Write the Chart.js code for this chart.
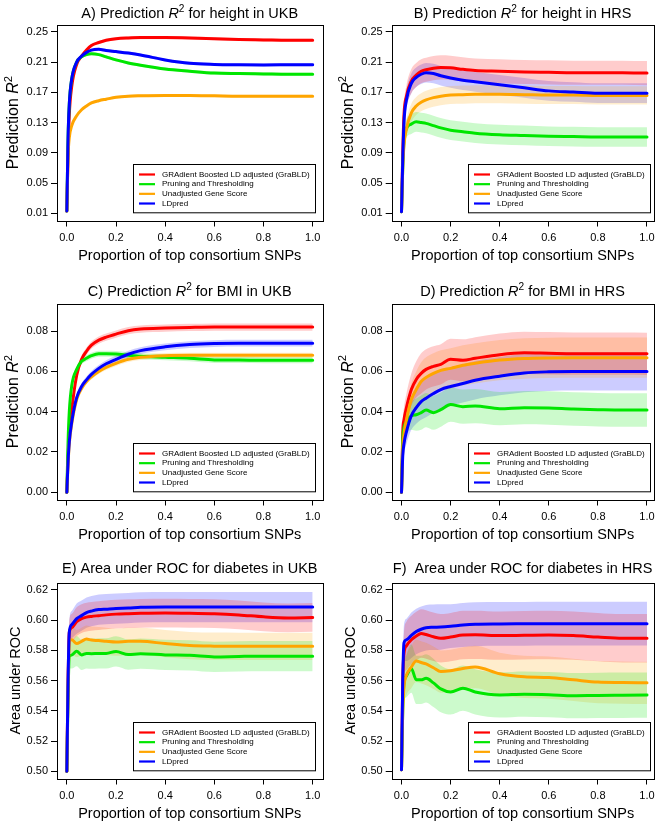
<!DOCTYPE html>
<html>
<head>
<meta charset="utf-8">
<script src="https://cdn.jsdelivr.net/npm/chart.js@4/dist/chart.umd.min.js"></script>
<style>
  body { margin: 0; background: #fff; width: 660px; height: 822px; overflow: hidden; position: relative; }
  canvas { position: absolute; }
</style>
</head>
<body>
<canvas id="pA" width="330" height="279" style="left:0;top:0"></canvas>
<canvas id="pB" width="330" height="279" style="left:330px;top:0"></canvas>
<canvas id="pC" width="330" height="279" style="left:0;top:279px"></canvas>
<canvas id="pD" width="330" height="279" style="left:330px;top:279px"></canvas>
<canvas id="pE" width="330" height="279" style="left:0;top:558px"></canvas>
<canvas id="pF" width="330" height="279" style="left:330px;top:558px"></canvas>
<script>
// proportion of top consortium SNPs (x grid shared by all curves)
const snpProp = [0, 0.005, 0.01, 0.02, 0.04, 0.06, 0.08, 0.1, 0.13, 0.16, 0.2, 0.25, 0.3, 0.4, 0.5, 0.6, 0.7, 0.8, 0.9, 1.0];
const xTicks = [0, 0.2, 0.4, 0.6, 0.8, 1.0];
const ticksHeight = [0.01, 0.05, 0.09, 0.13, 0.17, 0.21, 0.25];
const ticksBMI = [0, 0.02, 0.04, 0.06, 0.08];
const ticksAUC = [0.50, 0.52, 0.54, 0.56, 0.58, 0.60, 0.62];

const seriesNames = ["GRAdient Boosted LD adjusted (GraBLD)", "Pruning and Thresholding", "Unadjusted Gene Score", "LDpred"];
const lineColors = ["#ff0000", "#00e600", "#ffa500", "#0000ff"];
const bandColors = ["rgba(255,0,0,0.2)", "rgba(0,230,0,0.2)", "rgba(255,165,0,0.2)", "rgba(0,0,255,0.2)"];

// A) height, UKB
const hUKB_grabld = [0.013, 0.09, 0.14, 0.178, 0.207, 0.218, 0.226, 0.232, 0.236, 0.239, 0.241, 0.242, 0.2425, 0.2425, 0.242, 0.241, 0.240, 0.2395, 0.239, 0.239];
const hUKB_pt     = [0.013, 0.11, 0.155, 0.188, 0.210, 0.217, 0.220, 0.221, 0.220, 0.217, 0.213, 0.209, 0.206, 0.201, 0.198, 0.1955, 0.195, 0.1945, 0.194, 0.194];
const hUKB_ugs    = [0.013, 0.085, 0.11, 0.126, 0.139, 0.147, 0.152, 0.156, 0.159, 0.161, 0.1635, 0.165, 0.1655, 0.166, 0.166, 0.1655, 0.165, 0.165, 0.165, 0.165];
const hUKB_ldpred = [0.013, 0.11, 0.155, 0.188, 0.210, 0.218, 0.223, 0.226, 0.227, 0.2255, 0.224, 0.222, 0.2195, 0.213, 0.2085, 0.207, 0.2065, 0.2063, 0.2065, 0.2067];
const hUKB_grabld_ci = [0, 0.001, 0.0015, 0.002, 0.002, 0.002, 0.002, 0.002, 0.002, 0.002, 0.002, 0.002, 0.002, 0.002, 0.002, 0.002, 0.002, 0.002, 0.002, 0.002];
const hUKB_pt_ci     = [0, 0.001, 0.0015, 0.002, 0.002, 0.002, 0.002, 0.002, 0.002, 0.002, 0.002, 0.002, 0.002, 0.002, 0.002, 0.002, 0.002, 0.002, 0.002, 0.002];
const hUKB_ugs_ci    = [0, 0.001, 0.0015, 0.0018, 0.0018, 0.0018, 0.0018, 0.0018, 0.0018, 0.0018, 0.0018, 0.0018, 0.0018, 0.0018, 0.0018, 0.0018, 0.0018, 0.0018, 0.0018, 0.0018];
const hUKB_ldpred_ci = [0, 0.001, 0.0015, 0.002, 0.002, 0.002, 0.002, 0.002, 0.002, 0.002, 0.002, 0.002, 0.002, 0.002, 0.002, 0.002, 0.002, 0.002, 0.002, 0.002];

// B) height, HRS
const hHRS_grabld = [0.013, 0.09, 0.14, 0.165, 0.185, 0.193, 0.198, 0.2, 0.202, 0.203, 0.2025, 0.2005, 0.199, 0.198, 0.197, 0.1965, 0.196, 0.196, 0.196, 0.1955];
const hHRS_pt     = [0.012, 0.07, 0.105, 0.122, 0.128, 0.131, 0.13, 0.129, 0.126, 0.123, 0.12, 0.118, 0.116, 0.114, 0.113, 0.112, 0.1115, 0.111, 0.111, 0.111];
const hHRS_ugs    = [0.012, 0.07, 0.1, 0.122, 0.143, 0.152, 0.157, 0.16, 0.163, 0.165, 0.1665, 0.167, 0.1675, 0.1675, 0.167, 0.1665, 0.1665, 0.166, 0.166, 0.166];
const hHRS_ldpred = [0.012, 0.08, 0.13, 0.16, 0.182, 0.19, 0.194, 0.196, 0.195, 0.192, 0.189, 0.186, 0.184, 0.18, 0.176, 0.172, 0.1705, 0.169, 0.169, 0.169];
const hHRS_grabld_ci = [0, 0.008, 0.012, 0.014, 0.016, 0.016, 0.016, 0.016, 0.016, 0.016, 0.016, 0.016, 0.016, 0.016, 0.016, 0.016, 0.016, 0.016, 0.016, 0.016];
const hHRS_pt_ci     = [0, 0.006, 0.01, 0.012, 0.013, 0.013, 0.013, 0.013, 0.013, 0.013, 0.013, 0.013, 0.013, 0.013, 0.013, 0.013, 0.013, 0.013, 0.013, 0.013];
const hHRS_ugs_ci    = [0, 0.006, 0.009, 0.011, 0.012, 0.012, 0.012, 0.012, 0.012, 0.012, 0.012, 0.012, 0.012, 0.012, 0.012, 0.012, 0.012, 0.012, 0.012, 0.012];
const hHRS_ldpred_ci = [0, 0.007, 0.01, 0.012, 0.013, 0.013, 0.013, 0.013, 0.013, 0.013, 0.013, 0.013, 0.013, 0.013, 0.013, 0.013, 0.013, 0.013, 0.013, 0.013];

// C) BMI, UKB
const bUKB_grabld = [0, 0.018, 0.028, 0.041, 0.058, 0.066, 0.07, 0.073, 0.0755, 0.077, 0.0785, 0.0802, 0.081, 0.0815, 0.0818, 0.082, 0.082, 0.082, 0.082, 0.082];
const bUKB_pt     = [0, 0.025, 0.04, 0.053, 0.061, 0.065, 0.0665, 0.0678, 0.0688, 0.0688, 0.0686, 0.068, 0.0675, 0.067, 0.0665, 0.0657, 0.0656, 0.0655, 0.0655, 0.0655];
const bUKB_ugs    = [0, 0.014, 0.024, 0.034, 0.046, 0.0515, 0.055, 0.0573, 0.06, 0.062, 0.064, 0.066, 0.067, 0.0678, 0.068, 0.068, 0.068, 0.068, 0.068, 0.068];
const bUKB_ldpred = [0, 0.015, 0.025, 0.035, 0.047, 0.0525, 0.0558, 0.0585, 0.0615, 0.0638, 0.066, 0.0685, 0.0703, 0.0722, 0.0733, 0.0738, 0.074, 0.074, 0.074, 0.074];
const bUKB_grabld_ci = [0, 0.0008, 0.001, 0.0012, 0.0015, 0.0017, 0.0018, 0.0018, 0.0018, 0.0018, 0.0018, 0.0018, 0.0018, 0.0018, 0.0018, 0.0018, 0.0018, 0.0018, 0.0018, 0.0018];
const bUKB_pt_ci     = [0, 0.0008, 0.001, 0.0012, 0.0014, 0.0015, 0.0015, 0.0015, 0.0015, 0.0015, 0.0015, 0.0015, 0.0015, 0.0015, 0.0015, 0.0015, 0.0015, 0.0015, 0.0015, 0.0015];
const bUKB_ugs_ci    = [0, 0.0007, 0.0009, 0.001, 0.0012, 0.0013, 0.0013, 0.0013, 0.0013, 0.0013, 0.0013, 0.0013, 0.0013, 0.0013, 0.0013, 0.0013, 0.0013, 0.0013, 0.0013, 0.0013];
const bUKB_ldpred_ci = [0, 0.0008, 0.001, 0.0012, 0.0015, 0.0016, 0.0017, 0.0017, 0.0017, 0.0017, 0.0017, 0.0017, 0.0017, 0.0017, 0.0017, 0.0017, 0.0017, 0.0017, 0.0017, 0.0017];

// D) BMI, HRS
const bHRS_grabld = [0, 0.03, 0.036, 0.042, 0.051, 0.056, 0.059, 0.061, 0.0625, 0.0635, 0.066, 0.0655, 0.0665, 0.0683, 0.0692, 0.069, 0.0688, 0.0688, 0.0688, 0.0687];
const bHRS_pt     = [0, 0.026, 0.032, 0.035, 0.038, 0.0385, 0.0395, 0.0408, 0.0395, 0.041, 0.0435, 0.0425, 0.0428, 0.0415, 0.042, 0.0418, 0.0413, 0.041, 0.0408, 0.0408];
const bHRS_ugs    = [0, 0.022, 0.029, 0.036, 0.046, 0.051, 0.055, 0.057, 0.059, 0.0605, 0.0615, 0.063, 0.064, 0.0656, 0.0664, 0.0667, 0.0668, 0.0668, 0.0668, 0.0668];
const bHRS_ldpred = [0, 0.018, 0.024, 0.03, 0.038, 0.042, 0.045, 0.0467, 0.049, 0.051, 0.0525, 0.054, 0.0556, 0.0576, 0.0592, 0.0598, 0.06, 0.06, 0.06, 0.06];
const bHRS_grabld_ci = [0, 0.005, 0.006, 0.007, 0.008, 0.009, 0.01, 0.01, 0.01, 0.01, 0.0102, 0.0104, 0.0105, 0.0105, 0.0105, 0.0105, 0.0105, 0.0105, 0.0105, 0.0105];
const bHRS_pt_ci     = [0, 0.004, 0.005, 0.006, 0.007, 0.008, 0.0085, 0.0085, 0.0085, 0.0085, 0.0085, 0.0085, 0.0085, 0.0083, 0.0083, 0.0083, 0.0083, 0.0083, 0.0083, 0.0083];
const bHRS_ugs_ci    = [0, 0.004, 0.005, 0.006, 0.008, 0.009, 0.0095, 0.01, 0.01, 0.01, 0.01, 0.01, 0.01, 0.01, 0.01, 0.01, 0.01, 0.01, 0.01, 0.01];
const bHRS_ldpred_ci = [0, 0.004, 0.005, 0.006, 0.007, 0.008, 0.009, 0.0095, 0.0095, 0.0095, 0.0095, 0.0095, 0.0095, 0.0095, 0.0095, 0.0095, 0.0095, 0.0095, 0.0095, 0.0095];

// E) diabetes AUC, UKB
const dUKB_grabld = [0.5, 0.56, 0.592, 0.595, 0.599, 0.601, 0.602, 0.6025, 0.603, 0.6035, 0.604, 0.6043, 0.6045, 0.6047, 0.6045, 0.6043, 0.6035, 0.6022, 0.6015, 0.6018];
const dUKB_pt     = [0.5, 0.55, 0.576, 0.577, 0.5795, 0.577, 0.578, 0.5778, 0.578, 0.578, 0.5793, 0.5772, 0.5778, 0.577, 0.5767, 0.5757, 0.576, 0.5762, 0.5762, 0.5762];
const dUKB_ugs    = [0.5, 0.555, 0.5865, 0.587, 0.5845, 0.586, 0.5875, 0.5868, 0.5865, 0.586, 0.5855, 0.586, 0.586, 0.5845, 0.5832, 0.5828, 0.5827, 0.5827, 0.5827, 0.5827];
const dUKB_ldpred = [0.5, 0.56, 0.592, 0.597, 0.601, 0.603, 0.605, 0.606, 0.607, 0.6073, 0.6077, 0.608, 0.6085, 0.6087, 0.6087, 0.6087, 0.6087, 0.6087, 0.6087, 0.6087];
const dUKB_grabld_ci = [0, 0.006, 0.008, 0.009, 0.0095, 0.0095, 0.0095, 0.0095, 0.0095, 0.0095, 0.0095, 0.0095, 0.0095, 0.0095, 0.0095, 0.0095, 0.0095, 0.0095, 0.0095, 0.0095];
const dUKB_pt_ci     = [0, 0.006, 0.008, 0.009, 0.01, 0.01, 0.01, 0.01, 0.01, 0.01, 0.01, 0.01, 0.01, 0.01, 0.01, 0.01, 0.01, 0.01, 0.01, 0.01];
const dUKB_ugs_ci    = [0, 0.006, 0.008, 0.009, 0.009, 0.009, 0.009, 0.009, 0.009, 0.009, 0.009, 0.009, 0.009, 0.009, 0.009, 0.009, 0.009, 0.009, 0.009, 0.009];
const dUKB_ldpred_ci = [0, 0.006, 0.008, 0.009, 0.01, 0.01, 0.01, 0.01, 0.01, 0.01, 0.01, 0.01, 0.01, 0.01, 0.01, 0.01, 0.01, 0.01, 0.01, 0.01];

// F) diabetes AUC, HRS
const dHRS_grabld = [0.501, 0.56, 0.578, 0.583, 0.587, 0.5895, 0.5912, 0.5905, 0.589, 0.588, 0.5888, 0.5902, 0.5903, 0.5898, 0.59, 0.5902, 0.5898, 0.5888, 0.588, 0.588];
const dHRS_pt     = [0.501, 0.54, 0.558, 0.563, 0.568, 0.5605, 0.5605, 0.5615, 0.5585, 0.5545, 0.5525, 0.555, 0.5525, 0.5505, 0.551, 0.5507, 0.55, 0.5502, 0.5503, 0.5504];
const dHRS_ugs    = [0.501, 0.54, 0.556, 0.5635, 0.569, 0.573, 0.572, 0.571, 0.5685, 0.566, 0.5665, 0.568, 0.569, 0.5645, 0.5625, 0.562, 0.5605, 0.559, 0.5587, 0.5585];
const dHRS_ldpred = [0.501, 0.56, 0.585, 0.587, 0.59, 0.5925, 0.594, 0.595, 0.5953, 0.5955, 0.596, 0.5968, 0.5973, 0.5975, 0.5976, 0.5977, 0.5977, 0.5977, 0.5977, 0.5977];
const dHRS_grabld_ci = [0, 0.01, 0.014, 0.016, 0.016, 0.016, 0.016, 0.016, 0.016, 0.016, 0.016, 0.016, 0.016, 0.016, 0.016, 0.016, 0.016, 0.016, 0.016, 0.016];
const dHRS_pt_ci     = [0, 0.008, 0.012, 0.014, 0.016, 0.016, 0.016, 0.016, 0.016, 0.0155, 0.015, 0.015, 0.015, 0.015, 0.015, 0.015, 0.015, 0.015, 0.015, 0.015];
const dHRS_ugs_ci    = [0, 0.008, 0.012, 0.013, 0.014, 0.014, 0.014, 0.014, 0.014, 0.014, 0.014, 0.014, 0.014, 0.014, 0.014, 0.014, 0.014, 0.014, 0.014, 0.014];
const dHRS_ldpred_ci = [0, 0.008, 0.012, 0.014, 0.015, 0.015, 0.015, 0.015, 0.015, 0.015, 0.0145, 0.0145, 0.0145, 0.0145, 0.0145, 0.0145, 0.0145, 0.0145, 0.0145, 0.0145];

const FONT = "'Liberation Sans', Arial, Helvetica, sans-serif";
Chart.defaults.font.family = FONT;
Chart.defaults.color = "#000";
Chart.defaults.animation = false;

const r2Label = [["Prediction ", "n"], ["R", "i"], ["2", "s"]];
const panels = [
  { id: "pA", title: [["A) Prediction ", "n"], ["R", "i"], ["2", "s"], [" for height in UKB", "n"]], ylab: r2Label, ylabSize: 16,
    vals: [hUKB_grabld, hUKB_pt, hUKB_ugs, hUKB_ldpred], ci: [hUKB_grabld_ci, hUKB_pt_ci, hUKB_ugs_ci, hUKB_ldpred_ci],
    yMin: 0.0004, yMax: 0.2596, yTicks: ticksHeight, right: false, titleY: 18 },
  { id: "pB", title: [["B) Prediction ", "n"], ["R", "i"], ["2", "s"], [" for height in HRS", "n"]], ylab: r2Label, ylabSize: 16,
    vals: [hHRS_grabld, hHRS_pt, hHRS_ugs, hHRS_ldpred], ci: [hHRS_grabld_ci, hHRS_pt_ci, hHRS_ugs_ci, hHRS_ldpred_ci],
    yMin: 0.0004, yMax: 0.2596, yTicks: ticksHeight, right: true, titleY: 18 },
  { id: "pC", title: [["C) Prediction ", "n"], ["R", "i"], ["2", "s"], [" for BMI in UKB", "n"]], ylab: r2Label, ylabSize: 16,
    vals: [bUKB_grabld, bUKB_pt, bUKB_ugs, bUKB_ldpred], ci: [bUKB_grabld_ci, bUKB_pt_ci, bUKB_ugs_ci, bUKB_ldpred_ci],
    yMin: -0.0036, yMax: 0.0936, yTicks: ticksBMI, right: false, titleY: 17 },
  { id: "pD", title: [["D) Prediction ", "n"], ["R", "i"], ["2", "s"], [" for BMI in HRS", "n"]], ylab: r2Label, ylabSize: 16,
    vals: [bHRS_grabld, bHRS_pt, bHRS_ugs, bHRS_ldpred], ci: [bHRS_grabld_ci, bHRS_pt_ci, bHRS_ugs_ci, bHRS_ldpred_ci],
    yMin: -0.0036, yMax: 0.0936, yTicks: ticksBMI, right: true, titleY: 17 },
  { id: "pE", title: [["E) Area under ROC for diabetes in UKB", "n"]], ylab: [["Area under ROC", "n"]], ylabSize: 14.5,
    vals: [dUKB_grabld, dUKB_pt, dUKB_ugs, dUKB_ldpred], ci: [dUKB_grabld_ci, dUKB_pt_ci, dUKB_ugs_ci, dUKB_ldpred_ci],
    yMin: 0.4952, yMax: 0.6248, yTicks: ticksAUC, right: false, titleY: 15 },
  { id: "pF", title: [["F)  Area under ROC for diabetes in HRS", "n"]], ylab: [["Area under ROC", "n"]], ylabSize: 14.5,
    vals: [dHRS_grabld, dHRS_pt, dHRS_ugs, dHRS_ldpred], ci: [dHRS_grabld_ci, dHRS_pt_ci, dHRS_ugs_ci, dHRS_ldpred_ci],
    yMin: 0.4952, yMax: 0.6248, yTicks: ticksAUC, right: true, titleY: 15 },
];

// text made of normal / italic / superscript pieces, centred on cx
function drawPieces(ctx, pieces, cx, base, size) {
  const fontOf = s => s === "i" ? `italic ${size}px ${FONT}` : s === "s" ? `${size * 0.7}px ${FONT}` : `${size}px ${FONT}`;
  let total = 0;
  pieces.forEach(([t, s]) => { ctx.font = fontOf(s); total += ctx.measureText(t).width; });
  let x = cx - total / 2;
  ctx.textAlign = "left";
  ctx.textBaseline = "alphabetic";
  pieces.forEach(([t, s]) => {
    ctx.font = fontOf(s);
    ctx.fillText(t, x, s === "s" ? base - size * 0.42 : base);
    x += ctx.measureText(t).width;
  });
}

const framePlugin = {
  id: "frame",
  afterDraw(chart, args, o) {
    const { ctx, chartArea: a } = chart;
    ctx.save();
    ctx.fillStyle = "#000";
    ctx.strokeStyle = "#000";
    ctx.lineWidth = 1;
    ctx.strokeRect(Math.round(a.left) + 0.5, Math.round(a.top) + 0.5, Math.round(a.right - a.left), Math.round(a.bottom - a.top));

    drawPieces(ctx, o.title, (a.left + a.right) / 2, o.titleY, 14.5);

    ctx.save();
    ctx.translate(a.left - o.ylabGap, (a.top + a.bottom) / 2);
    ctx.rotate(-Math.PI / 2);
    drawPieces(ctx, o.ylab, 0, o.ylabSize * 0.36, o.ylabSize);
    ctx.restore();

    // legend, bottom right inside the plot
    const lw = 182, lh = 48.3;
    const lx = Math.round(a.left + 76.3), ly = Math.round(a.bottom - 8 - lh);
    ctx.fillStyle = "#fff";
    ctx.fillRect(lx, ly, lw, lh);
    ctx.strokeRect(lx + 0.5, ly + 0.5, lw, lh);
    ctx.font = `8px ${FONT}`;
    ctx.textAlign = "left";
    ctx.textBaseline = "middle";
    seriesNames.forEach((name, i) => {
      const y = ly + 10.5 + i * 9.67;
      ctx.strokeStyle = lineColors[i];
      ctx.lineWidth = 2.2;
      ctx.beginPath();
      ctx.moveTo(lx + 6, y);
      ctx.lineTo(lx + 22, y);
      ctx.stroke();
      ctx.fillStyle = "#000";
      ctx.fillText(name, lx + 29, y);
    });
    ctx.restore();
  }
};

function buildSets(p) {
  const sets = [];
  p.vals.forEach((ys, k) => {
    const ci = p.ci[k];
    sets.push({ data: snpProp.map((x, i) => ({ x, y: ys[i] - ci[i] })), borderWidth: 0, borderColor: "rgba(0,0,0,0)",
      pointRadius: 0, fill: false, order: 10, cubicInterpolationMode: "monotone" });
    sets.push({ data: snpProp.map((x, i) => ({ x, y: ys[i] + ci[i] })), borderWidth: 0, borderColor: "rgba(0,0,0,0)",
      pointRadius: 0, fill: "-1", backgroundColor: bandColors[k], order: 10, cubicInterpolationMode: "monotone" });
  });
  p.vals.forEach((ys, k) => {
    sets.push({ label: seriesNames[k], data: snpProp.map((x, i) => ({ x, y: ys[i] })), borderColor: lineColors[k],
      borderWidth: 3, borderJoinStyle: "round", borderCapStyle: "round", pointRadius: 0, fill: false,
      order: 4 - k, cubicInterpolationMode: "monotone" });
  });
  return sets;
}

panels.forEach(p => {
  const boxLeft = p.right ? 61.7 : 57;
  new Chart(document.getElementById(p.id), {
    type: "line",
    data: { datasets: buildSets(p) },
    plugins: [framePlugin],
    options: {
      responsive: false,
      events: [],
      layout: { padding: { top: 24.7, right: p.right ? 6.5 : 7.5, left: 0, bottom: 0 } },
      plugins: {
        legend: { display: false },
        tooltip: { enabled: false },
        frame: { title: p.title, titleY: p.titleY, ylab: p.ylab, ylabSize: p.ylabSize, ylabGap: p.ylabSize > 15 ? 44.5 : 42 }
      },
      scales: {
        x: {
          type: "linear",
          min: -0.04,
          max: p.right ? 1.0265 : 1.04,
          afterBuildTicks: s => { s.ticks = xTicks.map(v => ({ value: v })); },
          afterFit: s => { s.height = 58.5; },
          border: { display: false },
          grid: { drawOnChartArea: false, drawTicks: true, tickLength: 6, color: "#000" },
          ticks: { font: { size: 11 }, padding: 5, maxRotation: 0, autoSkip: false, callback: v => v.toFixed(1) },
          title: { display: true, text: "Proportion of top consortium SNPs", font: { size: 14.5 }, padding: { top: 0, bottom: 14.6 } }
        },
        y: {
          type: "linear",
          min: p.yMin,
          max: p.yMax,
          afterBuildTicks: s => { s.ticks = p.yTicks.map(v => ({ value: v })); },
          afterFit: s => { s.width = boxLeft; },
          border: { display: false },
          grid: { drawOnChartArea: false, drawTicks: true, tickLength: 6, color: "#000" },
          ticks: { font: { size: 11 }, padding: 3, autoSkip: false, callback: v => v.toFixed(2) }
        }
      }
    }
  });
});
</script>
</body>
</html>
